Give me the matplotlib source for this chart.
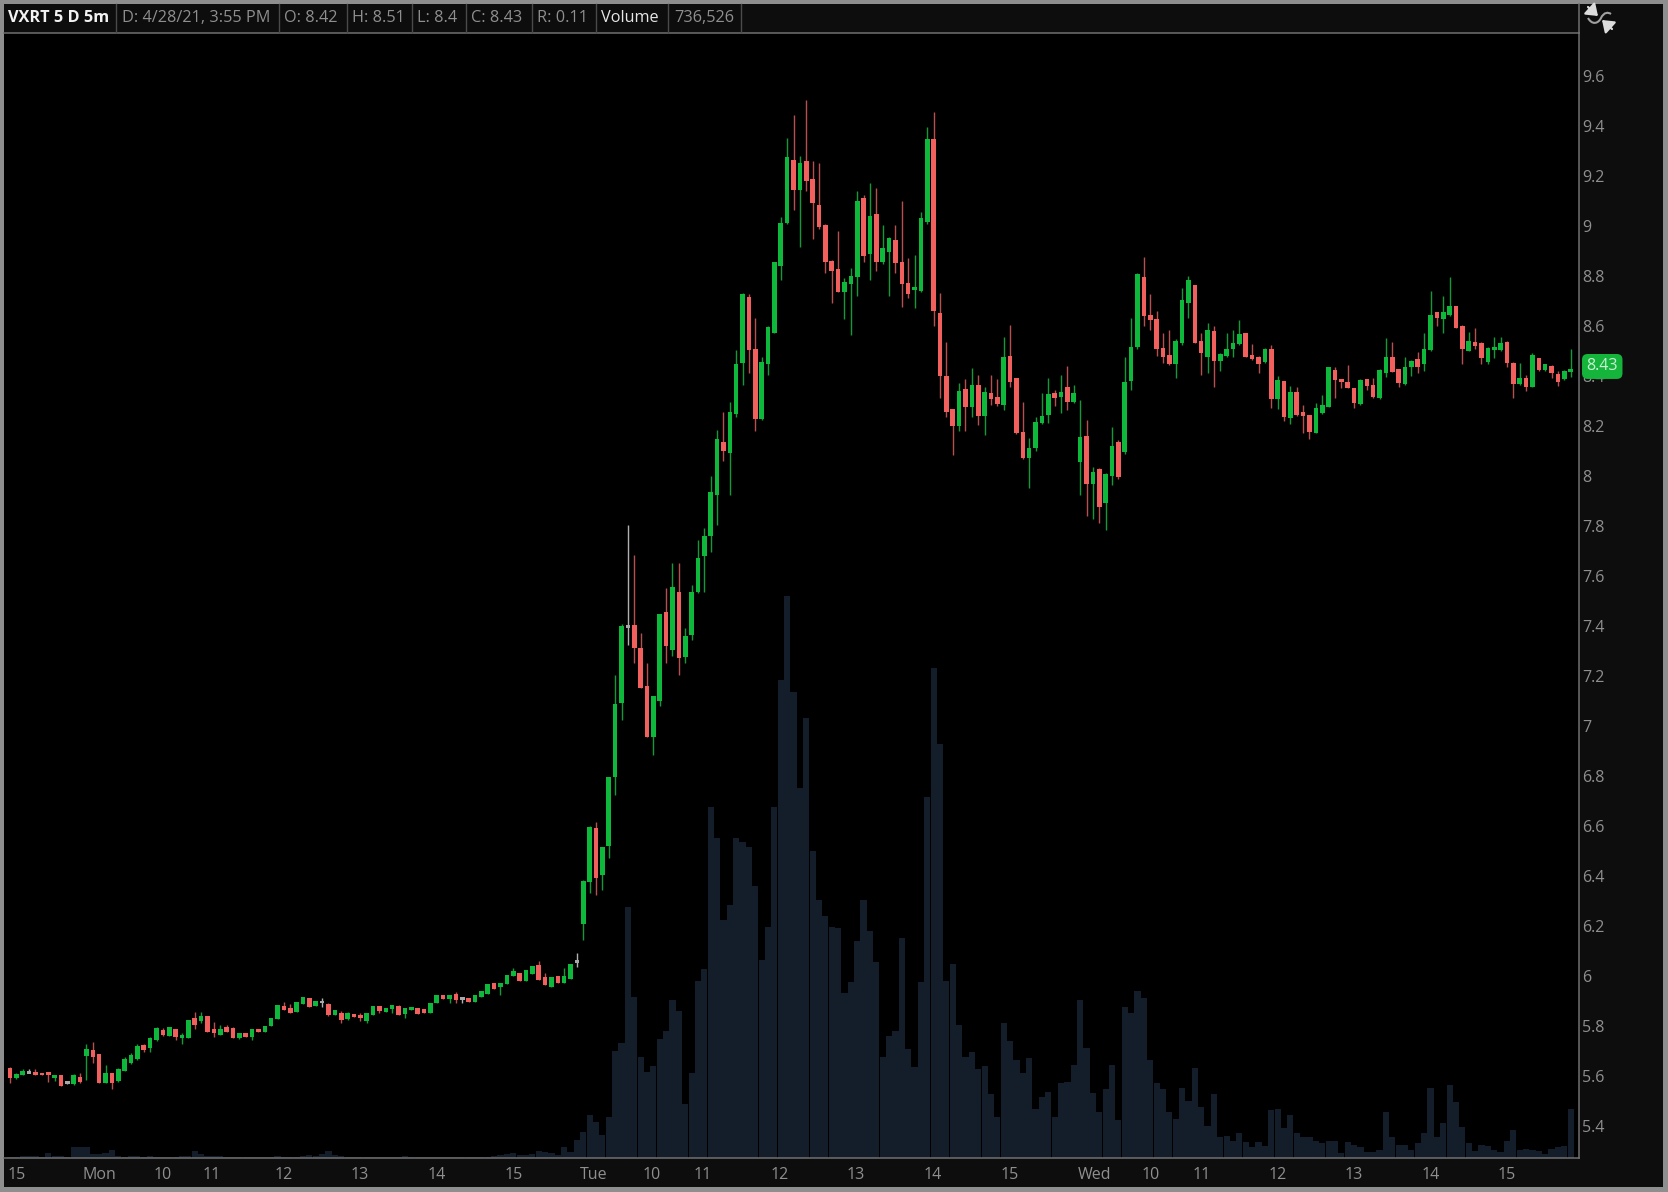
import matplotlib
matplotlib.use("Agg")
import matplotlib.pyplot as plt
from matplotlib.patches import Rectangle, FancyArrowPatch, PathPatch
from matplotlib.path import Path
from matplotlib.lines import Line2D
from matplotlib.transforms import ScaledTranslation
import numpy as np

# ---------- DATA (5-minute bars) ----------
opens = [
5.634,5.594,5.608,5.618,5.619,5.614,5.618,5.594,5.608,5.578,
5.571,5.600,5.683,5.707,5.691,5.576,5.614,5.583,5.624,5.654,
5.671,5.727,5.714,5.747,5.786,5.763,5.792,5.754,5.756,5.834,
5.822,5.842,5.790,5.768,5.800,5.794,5.754,5.774,5.760,5.792,
5.780,5.803,5.830,5.883,5.874,5.858,5.891,5.914,5.883,5.899,
5.891,5.847,5.855,5.832,5.851,5.847,5.824,5.848,5.883,5.858,
5.871,5.884,5.851,5.868,5.876,5.870,5.855,5.895,5.926,5.910,
5.932,5.914,5.914,5.899,5.920,5.930,5.975,5.960,5.972,6.003,
6.016,5.984,6.010,6.047,5.999,5.960,6.002,5.976,5.990,6.062,
6.213,6.380,6.596,6.407,6.523,6.798,7.094,7.400,7.407,7.314,
7.164,6.960,7.104,7.460,7.307,7.538,7.280,7.367,7.538,7.683,
7.763,7.927,8.140,8.094,8.250,8.454,8.720,8.510,8.230,8.450,
8.574,8.843,9.016,9.267,9.147,9.263,9.190,9.087,9.007,8.863,
8.830,8.740,8.771,8.800,9.114,8.890,9.050,8.860,8.900,8.947,
8.858,8.774,8.747,8.744,9.020,9.350,8.656,8.403,8.270,8.203,
8.350,8.278,8.367,8.244,8.334,8.320,8.287,8.483,8.394,8.180,
8.074,8.114,8.216,8.247,8.334,8.318,8.360,8.300,8.058,8.163,
7.971,8.032,7.896,8.003,8.140,8.100,8.384,8.518,8.798,8.647,
8.630,8.516,8.487,8.451,8.534,8.694,8.767,8.543,8.480,8.583,
8.463,8.483,8.510,8.530,8.574,8.487,8.480,8.460,8.511,8.311,
8.384,8.234,8.338,8.260,8.247,8.174,8.256,8.280,8.427,8.387,
8.380,8.355,8.291,8.390,8.367,8.314,8.414,8.480,8.431,8.370,
8.438,8.470,8.451,8.507,8.658,8.631,8.647,8.684,8.604,8.504,
8.540,8.536,8.460,8.507,8.507,8.540,8.456,8.371,8.396,8.360,
8.474,8.427,8.444,8.411,8.390,8.420]
closes = [
5.594,5.611,5.624,5.618,5.608,5.608,5.606,5.607,5.564,5.578,
5.606,5.580,5.711,5.678,5.576,5.616,5.576,5.631,5.670,5.686,
5.724,5.707,5.755,5.795,5.768,5.798,5.758,5.767,5.826,5.807,
5.844,5.780,5.774,5.792,5.780,5.756,5.776,5.758,5.792,5.780,
5.804,5.835,5.888,5.867,5.854,5.900,5.919,5.878,5.904,5.899,
5.846,5.866,5.827,5.854,5.839,5.834,5.854,5.883,5.864,5.875,
5.888,5.847,5.876,5.876,5.852,5.854,5.894,5.926,5.910,5.926,
5.907,5.914,5.899,5.926,5.943,5.972,5.952,5.974,6.008,6.023,
5.984,6.027,6.043,5.987,5.967,5.998,5.976,6.004,6.052,6.062,
6.383,6.600,6.394,6.518,6.800,7.090,7.404,7.400,7.314,7.154,
6.958,7.124,7.451,7.323,7.558,7.274,7.364,7.538,7.676,7.763,
7.940,8.150,8.103,8.258,8.451,8.730,8.507,8.230,8.460,8.598,
8.858,9.016,9.278,9.147,9.254,9.183,9.094,9.000,8.858,8.824,
8.740,8.778,8.803,9.104,8.884,9.043,8.860,8.916,8.954,8.854,
8.771,8.731,8.760,9.036,9.350,8.663,8.404,8.260,8.204,8.344,
8.280,8.367,8.243,8.340,8.312,8.290,8.480,8.380,8.174,8.074,
8.116,8.218,8.244,8.331,8.314,8.338,8.300,8.336,8.158,7.971,
8.020,7.880,8.011,8.123,8.000,8.380,8.518,8.811,8.644,8.627,
8.511,8.480,8.450,8.544,8.707,8.787,8.536,8.494,8.587,8.464,
8.490,8.511,8.534,8.570,8.480,8.470,8.451,8.511,8.311,8.387,
8.240,8.338,8.247,8.243,8.178,8.274,8.287,8.438,8.387,8.380,
8.356,8.294,8.387,8.363,8.318,8.427,8.480,8.420,8.374,8.438,
8.463,8.440,8.511,8.648,8.636,8.658,8.684,8.596,8.511,8.543,
8.524,8.474,8.516,8.520,8.534,8.454,8.371,8.396,8.360,8.486,
8.427,8.450,8.414,8.380,8.424,8.430]
highs = [
5.638,5.614,5.630,5.632,5.630,5.614,5.618,5.607,5.608,5.584,
5.610,5.614,5.732,5.739,5.691,5.648,5.616,5.634,5.678,5.694,
5.732,5.732,5.760,5.798,5.796,5.798,5.792,5.774,5.826,5.858,
5.858,5.842,5.820,5.806,5.806,5.798,5.776,5.774,5.792,5.792,
5.804,5.835,5.888,5.900,5.891,5.900,5.919,5.914,5.904,5.914,
5.894,5.866,5.862,5.859,5.851,5.854,5.854,5.883,5.883,5.875,
5.888,5.888,5.876,5.876,5.876,5.870,5.894,5.926,5.926,5.926,
5.940,5.920,5.914,5.926,5.943,5.972,5.975,5.976,6.008,6.034,
6.016,6.027,6.043,6.064,6.016,5.998,6.002,6.034,6.052,6.094,
6.387,6.604,6.618,6.518,6.800,7.207,7.413,7.807,7.687,7.374,
7.254,7.124,7.451,7.554,7.656,7.656,7.394,7.567,7.747,7.794,
8.003,8.187,8.258,8.298,8.507,8.735,8.730,8.634,8.478,8.604,
8.858,9.038,9.354,9.447,9.283,9.507,9.264,9.254,9.010,8.867,
8.983,8.794,8.834,9.144,9.127,9.174,9.156,9.007,8.960,9.007,
9.104,8.876,8.887,9.060,9.400,9.458,8.734,8.540,8.270,8.376,
8.390,8.436,8.407,8.360,8.407,8.391,8.560,8.607,8.394,8.300,
8.154,8.240,8.334,8.396,8.347,8.407,8.444,8.367,8.307,8.227,
8.040,8.035,8.015,8.198,8.147,8.478,8.634,8.816,8.878,8.731,
8.663,8.574,8.587,8.553,8.754,8.803,8.767,8.574,8.616,8.603,
8.494,8.574,8.587,8.627,8.574,8.531,8.483,8.516,8.527,8.403,
8.384,8.363,8.360,8.287,8.247,8.296,8.327,8.441,8.438,8.389,
8.447,8.355,8.390,8.392,8.396,8.430,8.556,8.538,8.433,8.478,
8.466,8.498,8.574,8.744,8.660,8.723,8.798,8.684,8.606,8.580,
8.594,8.538,8.518,8.558,8.558,8.542,8.458,8.456,8.407,8.496,
8.476,8.452,8.446,8.424,8.426,8.510]
lows = [
5.576,5.591,5.606,5.616,5.606,5.608,5.579,5.584,5.562,5.571,
5.567,5.577,5.587,5.656,5.576,5.574,5.550,5.580,5.622,5.651,
5.668,5.699,5.699,5.744,5.764,5.763,5.747,5.733,5.756,5.790,
5.816,5.780,5.758,5.766,5.778,5.756,5.752,5.758,5.749,5.780,
5.780,5.803,5.830,5.867,5.854,5.858,5.891,5.878,5.883,5.881,
5.843,5.847,5.816,5.827,5.839,5.824,5.816,5.848,5.854,5.858,
5.856,5.847,5.836,5.868,5.852,5.854,5.855,5.895,5.910,5.896,
5.894,5.894,5.899,5.899,5.920,5.930,5.952,5.927,5.972,6.003,
5.984,5.984,6.010,5.987,5.967,5.960,5.976,5.976,5.990,6.040,
6.147,6.334,6.327,6.347,6.474,6.727,7.027,7.327,7.254,7.154,
6.958,6.887,7.085,7.254,7.283,7.207,7.254,7.347,7.535,7.538,
7.700,7.807,8.064,7.927,8.240,8.367,8.414,8.184,8.227,8.407,
8.574,8.787,9.010,9.067,8.920,9.144,8.950,8.990,8.816,8.694,
8.740,8.630,8.566,8.724,8.860,8.787,8.824,8.850,8.724,8.814,
8.680,8.714,8.676,8.740,9.011,8.603,8.314,8.240,8.087,8.184,
8.183,8.240,8.207,8.167,8.287,8.285,8.267,8.358,8.170,8.070,
7.956,8.104,8.210,8.214,8.283,8.254,8.267,8.295,7.926,7.844,
7.830,7.816,7.787,7.967,7.990,8.090,8.347,8.510,8.603,8.587,
8.483,8.456,8.447,8.394,8.527,8.634,8.536,8.407,8.416,8.358,
8.424,8.478,8.478,8.527,8.478,8.468,8.416,8.455,8.274,8.270,
8.224,8.211,8.244,8.176,8.151,8.174,8.251,8.278,8.316,8.356,
8.354,8.276,8.288,8.347,8.316,8.312,8.398,8.418,8.358,8.368,
8.403,8.416,8.424,8.505,8.603,8.574,8.645,8.594,8.451,8.502,
8.513,8.451,8.453,8.474,8.505,8.438,8.314,8.369,8.344,8.358,
8.425,8.425,8.394,8.363,8.388,8.400]
# volume in thousands of shares
volumes = [
15,10,25,30,30,15,75,30,30,15,
170,170,170,60,60,70,125,30,15,25,
25,20,25,20,15,20,20,25,30,100,
60,30,30,25,15,10,10,15,20,10,
15,10,25,15,20,15,35,50,30,60,
110,50,30,10,10,10,15,10,10,10,
15,20,25,15,15,10,10,10,15,15,
10,10,10,20,20,15,25,50,55,75,
40,40,60,100,95,70,50,172,92,276,
390,649,534,350,620,1607,1728,3765,2417,1510,
1297,1383,1785,1911,2371,2198,804,1269,2658,2830,
5258,4799,3576,3788,4799,4736,4667,4081,2973,3461,
5258,7164,8426,6991,5556,6607,4609,3863,3633,3461,
3444,2468,2646,3260,3863,3404,2933,1510,1825,1911,
3300,1642,1366,2646,5413,7353,6216,2658,2916,1998,
1510,1584,1337,1383,953,620,2026,1756,1469,1280,
1498,735,918,993,620,1119,1137,1395,2371,1653,
982,695,1033,1395,563,2260,2175,2510,2400,1470,
1120,1035,685,585,1050,850,1345,770,475,960,
310,335,260,370,235,160,235,175,720,735,
445,645,370,320,310,250,225,260,260,75,
235,200,160,95,85,125,695,320,200,200,
120,220,370,1050,320,525,1095,835,470,220,
100,195,175,120,85,260,425,125,135,125,
110,60,135,170,175,736.526]

price_ticks = [5.4,5.6,5.8,6,6.2,6.4,6.6,6.8,7,7.2,7.4,7.6,7.8,8,8.2,8.4,8.6,8.8,9,9.2,9.4,9.6]
price_tick_labels = ["5.4","5.6","5.8","6","6.2","6.4","6.6","6.8","7","7.2","7.4","7.6","7.8","8","8.2","8.4","8.6","8.8","9","9.2","9.4","9.6"]
time_tick_pos = [1.1,14.1,23.9,31.7,43,54.9,67,79.1,91.7,100.8,108.8,120.9,132.8,144.9,157,170.2,179,187,199,211,223,235]
time_tick_labels = ["15","Mon","10","11","12","13","14","15","Tue","10","11","12","13","14","15","Wed","10","11","12","13","14","15"]

header_cells = [("VXRT 5 D 5m","#f2f2f2","bold",8),("D: 4/28/21, 3:55 PM","#8f8f8f","normal",122),
                ("O: 8.42","#8f8f8f","normal",284),("H: 8.51","#8f8f8f","normal",352),("L: 8.4","#8f8f8f","normal",417),
                ("C: 8.43","#8f8f8f","normal",471),("R: 0.11","#8f8f8f","normal",537),("Volume","#e6e6e6","normal",601),
                ("736,526","#8f8f8f","normal",674)]
header_seps = [116,279,347,412,466,532,596,668,741]

# ---------- LAYOUT ----------
W, H = 1668, 1192
plt.rcParams["font.family"] = ["Open Sans", "DejaVu Sans"]
fig = plt.figure(figsize=(W/100, H/100), dpi=100, facecolor="#8e8e8e")

def fx(x): return x / W
def fy(y): return 1 - y / H

fig.add_artist(Rectangle((fx(4), fy(1187)), fx(1663)-fx(4), fy(4)-fy(1187), transform=fig.transFigure,
                         fc="#0d0d0d", ec="none", zorder=-5))

PL, PR, PT, PB = 4, 1579, 33, 1158
rect = [fx(PL), fy(PB), fx(PR)-fx(PL), fy(PT)-fy(PB)]
ax_vol = fig.add_axes(rect, facecolor="black")
ax = ax_vol.twinx()
ax.patch.set_visible(False)

X0, DX = 10.0, 6.37
xlim = ((PL-X0)/DX, (PR-X0)/DX)
ax_vol.set_xlim(xlim)
ax_vol.set_ylim(0, (PB-PT)*15)
ax.set_ylim(9.907-PB/250, 9.907-PT/250)

idx = np.arange(len(opens))
o, c, h, l = map(np.array, (opens, closes, highs, lows))

# volume
ax_vol.bar(idx, volumes, width=0.97, color="#141e2b", linewidth=0, antialiased=False)

# candles
GREEN, RED, GRAY = "#0db83a", "#f2605e", "#a8a8a8"
WGREEN, WRED, WGRAY = "#129a3a", "#b5504f", "#b0b0b0"
body_col = [GRAY if a == b else (GREEN if b > a else RED) for a, b in zip(o, c)]
wick_col = [WGRAY if a == b else (WGREEN if b > a else WRED) for a, b in zip(o, c)]
ax.vlines(idx, l, h, colors=wick_col, linewidth=1.0, zorder=2)
min_h = 0.011
tops = np.maximum(o, c)
bots = np.minimum(o, c)
heights = np.maximum(tops - bots, min_h)
mids = (tops + bots) / 2
ax.bar(idx, heights, bottom=mids - heights/2, width=0.72, color=body_col, linewidth=0, zorder=3)

# axes styling
for a in (ax, ax_vol):
    for s in a.spines.values():
        s.set_visible(False)
for s in ("top", "right", "bottom"):
    ax_vol.spines[s].set_visible(True)
    ax_vol.spines[s].set_color("#707070")
    ax_vol.spines[s].set_linewidth(1.1)

ax_vol.set_yticks([])
ax_vol.set_xticks(time_tick_pos)
ax_vol.set_xticklabels(time_tick_labels)
ax_vol.tick_params(axis="x", length=0, pad=6.4, labelsize=11.5, labelcolor="#8f8f8f")
ax.set_yticks(price_ticks)
ax.set_yticklabels(price_tick_labels)
ax.tick_params(axis="y", length=0, pad=2.4, labelsize=11.5, labelcolor="#8f8f8f")
up = ScaledTranslation(0, 1/100, fig.dpi_scale_trans)
for lbl in ax.get_yticklabels():
    lbl.set_transform(lbl.get_transform() + up)

# last-price badge
ax.annotate(f"{closes[-1]:.2f}", xy=(1, closes[-1]), xycoords=ax.get_yaxis_transform(),
            xytext=(5.4, 2.0), textcoords="offset points", ha="left", va="center",
            fontsize=11.5, color="#c8efd2", zorder=10, annotation_clip=False,
            bbox=dict(boxstyle="round,pad=0.28,rounding_size=0.35", fc="#15b53c", ec="none"))

# header row
for txt, col, wgt, xp in header_cells:
    fig.text(fx(xp), fy(18.5), txt, color=col, fontweight=wgt, fontsize=11.7, ha="left", va="center")
for xp in header_seps:
    fig.add_artist(Line2D([fx(xp), fx(xp)], [fy(4), fy(32)], color="#4a4a4a", linewidth=1.0))
fig.add_artist(Line2D([fx(1579), fx(1579)], [fy(4), fy(33)], color="#707070", linewidth=1.1))

# sync icon, top right
icon_pts = [(1588, 18), (1592, 25), (1598, 24), (1601, 18), (1604, 12), (1608, 12), (1611, 14)]
icon_codes = [Path.MOVETO, Path.CURVE4, Path.CURVE4, Path.CURVE4, Path.CURVE4, Path.CURVE4, Path.CURVE4]
fig.add_artist(PathPatch(Path([(fx(a), fy(b)) for a, b in icon_pts], icon_codes), transform=fig.transFigure,
                         fc="none", ec="#a0a0a0", linewidth=1.5))
fig.add_artist(FancyArrowPatch((fx(1588), fy(7)), (fx(1598), fy(16)), transform=fig.transFigure, shrinkA=0, shrinkB=0,
                               arrowstyle="-|>,head_length=0.55,head_width=0.4", mutation_scale=12, color="#dcdcdc", linewidth=1.6))
fig.add_artist(FancyArrowPatch((fx(1612), fy(29)), (fx(1602), fy(20)), transform=fig.transFigure, shrinkA=0, shrinkB=0,
                               arrowstyle="-|>,head_length=0.55,head_width=0.4", mutation_scale=12, color="#dcdcdc", linewidth=1.6))

assert len(opens) == len(closes) == len(highs) == len(lows) == len(volumes)
fig.savefig("out.png", dpi=100, facecolor=fig.get_facecolor())
